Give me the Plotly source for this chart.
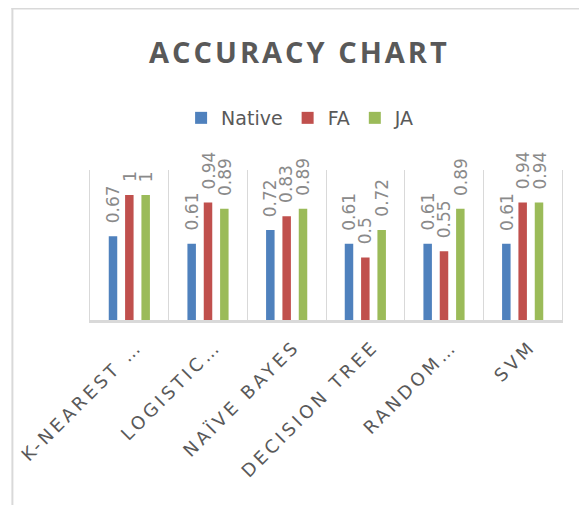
import plotly.graph_objects as go

categories = ["K-NEAREST …", "LOGISTIC…", "NAÏVE BAYES", "DECISION TREE", "RANDOM…", "SVM"]
native = [0.67, 0.61, 0.72, 0.61, 0.61, 0.61]
fa = [1, 0.94, 0.83, 0.5, 0.55, 0.94]
ja = [1, 0.89, 0.89, 0.72, 0.89, 0.94]
series_names = ["Native", "FA", "JA"]
series_values = [native, fa, ja]
colors = ["#4F81BD", "#C0504D", "#9BBB59"]
title_text = "ACCURACY CHART"

BARGAP = 0.377
BARGROUPGAP = 0.48

fig = go.Figure()
for name, vals, col in zip(series_names, series_values, colors):
    fig.add_trace(go.Bar(x=categories, y=vals, name=name,
                         marker=dict(color=col, line=dict(width=0))))

slot = (1 - BARGAP) / len(series_names)
annotations = []
for j, vals in enumerate(series_values):
    for i, v in enumerate(vals):
        annotations.append(dict(
            x=i + (j - 1) * slot, y=v, xref="x", yref="y",
            text=f"{v:g}", showarrow=False, textangle=-90,
            xanchor="center", yanchor="bottom", yshift=11,
            font=dict(family="DejaVu Sans", size=17, color="#8A8A8A")))

grid = "#D9D9D9"
shapes = [
    dict(type="line", xref="paper", yref="paper", x0=-0.1644, x1=-0.1644, y0=-1.25, y1=2.08,
         line=dict(color=grid, width=2)),
    dict(type="line", xref="paper", yref="paper", x0=-0.1665, x1=1.06, y0=2.0767, y1=2.0767,
         line=dict(color=grid, width=2)),
]

ticktext = [f"<span style='letter-spacing:3.5px'>{c}</span>" for c in categories]

fig.update_layout(
    width=579, height=497,
    margin=dict(l=82, r=25, t=162, b=185, autoexpand=False),
    paper_bgcolor="white", plot_bgcolor="white",
    barmode="group", bargap=BARGAP, bargroupgap=BARGROUPGAP,
    title=dict(text=f"<span style='letter-spacing:3px'>{title_text}</span>",
               x=0.5033, xref="container", xanchor="center",
               y=0.9105, yref="container", yanchor="middle", automargin=False,
               font=dict(family="Open Sans", size=29, color="#595959", weight="bold")),
    legend=dict(orientation="h", x=0.193, xanchor="left", y=1.3467, yanchor="middle",
                font=dict(family="DejaVu Sans", size=19, color="#595959"),
                bgcolor="rgba(0,0,0,0)"),
    xaxis=dict(type="category", range=[-0.5, 5.5], showgrid=True, gridcolor=grid, gridwidth=1.3,
               tickson="boundaries", ticks="", showline=True, linecolor=grid, linewidth=2.5,
               tickmode="array", tickvals=categories, ticktext=ticktext,
               ticklabelshift=8, ticklabelstandoff=6, automargin=False,
               tickangle=-45, tickfont=dict(family="DejaVu Sans", size=18, color="#595959")),
    yaxis=dict(range=[0, 1.2], showgrid=False, showticklabels=False, zeroline=False,
               showline=True, mirror=True, linecolor=grid, linewidth=1.3, ticks="",
               automargin=False),
    annotations=annotations,
    shapes=shapes,
)

fig.write_html("out.html")
